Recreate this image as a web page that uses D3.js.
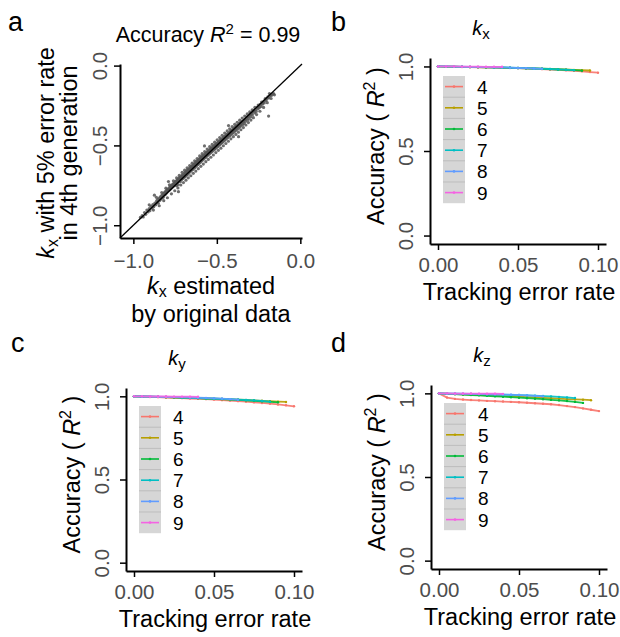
<!DOCTYPE html>
<meta charset="utf-8">
<title>Tracking error accuracy</title>
<script src="https://cdn.jsdelivr.net/npm/d3@7"></script>
<style>
  body { margin: 0; background: #fff; }
  svg text { font-family: "Liberation Sans", Arial, sans-serif; }
</style>
<body>
<script>

// panel a: k_x estimated by original data vs k_x with 5% error rate (4th generation)
var kxPairs = [
  [-0.958,-0.951],[-0.947,-0.940],[-0.941,-0.948],[-0.933,-0.921],[-0.926,-0.932],[-0.919,-0.905],[-0.912,-0.917],[-0.905,-0.896],
  [-0.901,-0.909],[-0.894,-0.881],[-0.889,-0.893],[-0.883,-0.870],[-0.878,-0.884],[-0.874,-0.812],[-0.871,-0.861],[-0.866,-0.872],
  [-0.861,-0.848],[-0.857,-0.856],[-0.853,-0.838],[-0.851,-0.862],[-0.846,-0.831],[-0.842,-0.845],[-0.839,-0.822],[-0.835,-0.836],
  [-0.831,-0.815],[-0.828,-0.829],[-0.824,-0.808],[-0.821,-0.824],[-0.818,-0.801],[-0.815,-0.811],[-0.812,-0.793],[-0.809,-0.808],
  [-0.806,-0.787],[-0.803,-0.799],[-0.800,-0.779],[-0.797,-0.792],[-0.794,-0.774],[-0.790,-0.726],[-0.791,-0.785],[-0.788,-0.770],
  [-0.785,-0.781],[-0.782,-0.761],[-0.779,-0.774],[-0.776,-0.757],[-0.773,-0.768],[-0.770,-0.748],[-0.767,-0.762],[-0.764,-0.744],
  [-0.761,-0.757],[-0.758,-0.737],[-0.755,-0.751],[-0.752,-0.731],[-0.749,-0.744],[-0.747,-0.725],[-0.744,-0.738],[-0.742,-0.752],
  [-0.739,-0.719],[-0.737,-0.731],[-0.734,-0.713],[-0.732,-0.745],[-0.730,-0.790],[-0.729,-0.722],[-0.727,-0.706],[-0.724,-0.718],
  [-0.722,-0.700],[-0.719,-0.727],[-0.717,-0.709],[-0.714,-0.693],[-0.712,-0.715],[-0.709,-0.700],[-0.707,-0.686],[-0.704,-0.708],
  [-0.702,-0.692],[-0.699,-0.679],[-0.697,-0.701],[-0.694,-0.684],[-0.692,-0.670],[-0.689,-0.694],[-0.687,-0.676],[-0.684,-0.663],
  [-0.682,-0.687],[-0.679,-0.668],[-0.677,-0.655],[-0.674,-0.680],[-0.672,-0.660],[-0.669,-0.648],[-0.667,-0.672],[-0.664,-0.652],
  [-0.662,-0.641],[-0.659,-0.665],[-0.657,-0.645],[-0.654,-0.633],[-0.652,-0.657],[-0.649,-0.637],[-0.647,-0.626],[-0.644,-0.651],
  [-0.642,-0.629],[-0.639,-0.618],[-0.637,-0.643],[-0.634,-0.622],[-0.632,-0.611],[-0.629,-0.636],[-0.627,-0.614],[-0.624,-0.603],
  [-0.622,-0.628],[-0.619,-0.607],[-0.617,-0.596],[-0.614,-0.621],[-0.612,-0.599],[-0.609,-0.589],[-0.607,-0.613],[-0.604,-0.592],
  [-0.602,-0.581],[-0.599,-0.606],[-0.597,-0.585],[-0.594,-0.574],[-0.592,-0.598],[-0.589,-0.577],[-0.587,-0.567],[-0.584,-0.591],
  [-0.582,-0.570],[-0.579,-0.559],[-0.577,-0.583],[-0.574,-0.503],[-0.572,-0.562],[-0.569,-0.552],[-0.567,-0.575],[-0.564,-0.555],
  [-0.562,-0.544],[-0.559,-0.567],[-0.557,-0.547],[-0.554,-0.537],[-0.552,-0.560],[-0.549,-0.541],[-0.547,-0.530],[-0.544,-0.553],
  [-0.542,-0.534],[-0.539,-0.523],[-0.537,-0.546],[-0.534,-0.527],[-0.532,-0.516],[-0.529,-0.539],[-0.527,-0.520],[-0.524,-0.509],
  [-0.522,-0.532],[-0.519,-0.513],[-0.517,-0.502],[-0.514,-0.525],[-0.512,-0.506],[-0.509,-0.495],[-0.507,-0.518],[-0.504,-0.499],
  [-0.502,-0.488],[-0.499,-0.511],[-0.497,-0.492],[-0.494,-0.481],[-0.492,-0.504],[-0.489,-0.486],[-0.487,-0.474],[-0.484,-0.497],
  [-0.482,-0.479],[-0.479,-0.467],[-0.477,-0.490],[-0.474,-0.472],[-0.472,-0.460],[-0.469,-0.483],[-0.467,-0.465],[-0.464,-0.453],
  [-0.462,-0.476],[-0.459,-0.458],[-0.457,-0.446],[-0.454,-0.469],[-0.452,-0.451],[-0.449,-0.440],[-0.447,-0.462],[-0.444,-0.444],
  [-0.442,-0.433],[-0.439,-0.455],[-0.437,-0.437],[-0.434,-0.426],[-0.432,-0.448],[-0.430,-0.376],[-0.429,-0.431],[-0.427,-0.419],
  [-0.424,-0.441],[-0.422,-0.424],[-0.419,-0.412],[-0.417,-0.434],[-0.414,-0.417],[-0.412,-0.405],[-0.409,-0.427],[-0.407,-0.410],
  [-0.404,-0.398],[-0.402,-0.420],[-0.399,-0.404],[-0.397,-0.391],[-0.394,-0.413],[-0.392,-0.397],[-0.389,-0.384],[-0.387,-0.406],
  [-0.384,-0.390],[-0.382,-0.377],[-0.379,-0.399],[-0.377,-0.383],[-0.374,-0.371],[-0.370,-0.445],[-0.372,-0.392],[-0.369,-0.376],
  [-0.366,-0.364],[-0.364,-0.385],[-0.361,-0.369],[-0.358,-0.357],[-0.356,-0.378],[-0.353,-0.362],[-0.349,-0.350],[-0.346,-0.371],
  [-0.343,-0.355],[-0.339,-0.343],[-0.336,-0.362],[-0.332,-0.338],[-0.328,-0.349],[-0.324,-0.331],[-0.320,-0.322],[-0.316,-0.341],
  [-0.312,-0.318],[-0.308,-0.330],[-0.304,-0.310],[-0.300,-0.301],[-0.296,-0.320],[-0.291,-0.298],[-0.287,-0.308],[-0.282,-0.287],
  [-0.278,-0.281],[-0.273,-0.296],[-0.268,-0.275],[-0.264,-0.287],[-0.259,-0.262],[-0.254,-0.271],[-0.249,-0.255],[-0.245,-0.263],
  [-0.240,-0.243],[-0.235,-0.256],[-0.230,-0.236],[-0.226,-0.241],[-0.221,-0.226],[-0.216,-0.234],[-0.211,-0.215],[-0.205,-0.218],
  [-0.200,-0.206],[-0.195,-0.196],[-0.190,-0.316],[-0.188,-0.203],[-0.183,-0.190],[-0.178,-0.183],[-0.172,-0.186],[-0.166,-0.178],
  [-0.160,-0.176],[-0.155,-0.183],
  // wider fringe of the band
  [-0.905,-0.872],[-0.880,-0.905],[-0.862,-0.825],[-0.845,-0.878],[-0.830,-0.795],[-0.818,-0.846],[-0.805,-0.768],[-0.796,-0.828],
  [-0.784,-0.747],[-0.772,-0.803],[-0.760,-0.722],[-0.752,-0.784],[-0.741,-0.703],[-0.733,-0.766],[-0.725,-0.688],[-0.716,-0.748],
  [-0.708,-0.669],[-0.700,-0.733],[-0.693,-0.655],[-0.685,-0.718],[-0.678,-0.640],[-0.671,-0.703],[-0.663,-0.626],[-0.656,-0.690],
  [-0.648,-0.611],[-0.641,-0.675],[-0.633,-0.596],[-0.626,-0.661],[-0.618,-0.582],[-0.611,-0.646],[-0.603,-0.566],[-0.596,-0.631],
  [-0.588,-0.552],[-0.581,-0.617],[-0.573,-0.538],[-0.566,-0.602],[-0.558,-0.523],[-0.551,-0.588],[-0.543,-0.508],[-0.536,-0.574],
  [-0.528,-0.494],[-0.521,-0.560],[-0.513,-0.480],[-0.506,-0.545],[-0.498,-0.465],[-0.491,-0.531],[-0.483,-0.451],[-0.476,-0.517],
  [-0.468,-0.437],[-0.461,-0.502],[-0.453,-0.423],[-0.446,-0.488],[-0.438,-0.409],[-0.431,-0.474],[-0.423,-0.396],[-0.416,-0.459],
  [-0.408,-0.382],[-0.401,-0.445],[-0.393,-0.368],[-0.386,-0.431],[-0.378,-0.355],[-0.371,-0.417],[-0.363,-0.342],[-0.356,-0.402],
  [-0.348,-0.329],[-0.341,-0.388],[-0.333,-0.316],[-0.326,-0.372],[-0.318,-0.303],[-0.311,-0.357],[-0.303,-0.290],[-0.296,-0.341],
  [-0.288,-0.277],[-0.281,-0.326],[-0.272,-0.262],[-0.262,-0.307],[-0.252,-0.247],[-0.242,-0.286],[-0.232,-0.228],[-0.220,-0.262],
  [-0.210,-0.207],[-0.198,-0.232],[-0.185,-0.175],[-0.175,-0.206],
  [-0.745,-0.730],[-0.735,-0.728],[-0.725,-0.718],[-0.715,-0.704],[-0.705,-0.695],[-0.695,-0.690],[-0.685,-0.672],[-0.675,-0.668],
  [-0.665,-0.655],[-0.655,-0.648],[-0.645,-0.634],[-0.635,-0.630],[-0.625,-0.615],[-0.615,-0.611],[-0.605,-0.596],[-0.595,-0.592],
  [-0.585,-0.576],[-0.575,-0.571],[-0.565,-0.558],[-0.555,-0.554],[-0.545,-0.542],[-0.535,-0.537],[-0.525,-0.519],[-0.515,-0.518],
  [-0.505,-0.500],[-0.495,-0.502],[-0.485,-0.481],[-0.475,-0.484]
];
var kxTicks = [-1.0, -0.5, 0.0];

// panels b-d: accuracy vs tracking error rate, one series per generation
var errorRate = [0, 0.005, 0.01, 0.015, 0.02, 0.025, 0.03, 0.035, 0.04, 0.045, 0.05,
                 0.055, 0.06, 0.065, 0.07, 0.075, 0.08, 0.085, 0.09, 0.095, 0.1];
var generations = ["4", "5", "6", "7", "8", "9"];
var genColors = ["#F8766D", "#B79F00", "#00BA38", "#00BFC4", "#619CFF", "#F564E3"];
var rateTicks = [0, 0.05, 0.1];
var accTicks = [0, 0.5, 1];

var accKx = [
  [1.000,0.999,0.998,0.997,0.996,0.995,0.994,0.993,0.992,0.991,0.990,0.988,0.986,0.984,0.982,0.980,0.977,0.974,0.971,0.967,0.963],
  [1.000,0.999,0.999,0.998,0.997,0.996,0.995,0.994,0.993,0.992,0.991,0.990,0.988,0.987,0.985,0.984,0.982,0.980,0.978,0.976],
  [1.000,0.999,0.999,0.998,0.997,0.996,0.995,0.994,0.993,0.992,0.991,0.989,0.988,0.986,0.984,0.982,0.980,0.978,0.975],
  [1.000,1.000,0.999,0.998,0.997,0.997,0.996,0.995,0.994,0.993,0.991,0.990,0.988,0.987,0.985,0.983,0.981,0.978],
  [1.000,1.000,0.999,0.999,0.998,0.997,0.996,0.995,0.994,0.993,0.991,0.990,0.988,0.986],
  [1.000,1.000,1.000,0.999,0.999,0.999,0.998,0.998,0.998]
];
var accKy = [
  [1.000,0.998,0.996,0.995,0.993,0.991,0.989,0.987,0.985,0.983,0.980,0.977,0.974,0.971,0.968,0.964,0.960,0.956,0.951,0.946,0.940],
  [1.000,0.999,0.998,0.997,0.996,0.994,0.993,0.991,0.990,0.988,0.986,0.984,0.982,0.980,0.978,0.976,0.973,0.971,0.968,0.966],
  [1.000,0.999,0.998,0.997,0.995,0.994,0.992,0.991,0.989,0.987,0.985,0.983,0.981,0.979,0.976,0.973,0.970,0.967,0.964],
  [1.000,0.999,0.998,0.997,0.996,0.995,0.993,0.992,0.990,0.988,0.987,0.985,0.983,0.980,0.978,0.976,0.972,0.968],
  [1.000,0.999,0.999,0.998,0.997,0.996,0.995,0.993,0.992,0.990,0.988,0.986,0.983,0.980],
  [1.000,1.000,0.999,0.999,0.999,0.998,0.998,0.998,0.997]
];
var accKz = [
  [1.000,0.975,0.967,0.963,0.960,0.958,0.955,0.953,0.951,0.949,0.947,0.944,0.941,0.938,0.935,0.930,0.924,0.918,0.910,0.902,0.894],
  [1.000,0.998,0.996,0.994,0.992,0.990,0.988,0.986,0.984,0.982,0.980,0.978,0.976,0.973,0.971,0.969,0.966,0.964,0.962,0.959],
  [1.000,0.997,0.995,0.993,0.990,0.988,0.985,0.982,0.980,0.977,0.974,0.971,0.968,0.965,0.961,0.958,0.954,0.949,0.943],
  [1.000,0.999,0.998,0.997,0.996,0.995,0.994,0.993,0.992,0.991,0.990,0.988,0.986,0.984,0.982,0.979,0.976,0.972],
  [1.000,0.999,0.999,0.998,0.997,0.996,0.995,0.994,0.993,0.992,0.990,0.988,0.985,0.982],
  [1.000,1.000,0.999,0.999,0.999,0.998,0.998,0.998,0.997]
];

var tickGrey = "#4d4d4d";
var titleSize = "23.5px";

var svg = d3.select("body").append("svg")
  .attr("width", 620)
  .attr("height", 637);

function styleAxis(g) {
  g.select(".domain").attr("stroke", "#000").attr("stroke-width", 2);
  g.selectAll(".tick line").attr("stroke", "#000").attr("stroke-width", 1.5);
  g.selectAll(".tick text")
    .attr("fill", tickGrey)
    .style("font-size", "20.5px")
    .style("font-family", "'Liberation Sans', Arial, sans-serif");
}

// rotate y tick labels so they read bottom to top, like the source
function rotateYLabels(g, off) {
  g.selectAll(".tick text")
    .attr("transform", "rotate(-90)")
    .attr("x", 0)
    .attr("y", -off)
    .attr("dy", 0)
    .attr("text-anchor", "middle");
}

function panelLetter(t, x, y) {
  svg.append("text").attr("x", x).attr("y", y)
    .style("font-size", "27px").text(t);
}

// ---------- panel a ----------
(function () {
  var x0 = 120, x1 = 302, yb = 238, yt = 64;
  var x = d3.scaleLinear().domain([-1.08, 0.01]).range([x0, x1]);
  var y = d3.scaleLinear().domain([-1.08, 0.01]).range([yb, yt]);

  var g = svg.append("g");

  g.selectAll(".pt")
    .data(kxPairs)
    .enter().append("circle")
    .attr("class", "pt")
    .attr("cx", function (d) { return x(d[0]); })
    .attr("cy", function (d) { return y(d[1]); })
    .attr("r", 1.6)
    .attr("fill", "#555")
    .attr("fill-opacity", 0.85);

  g.append("line")
    .attr("x1", x(-1.08)).attr("y1", y(-1.08))
    .attr("x2", x(0.01)).attr("y2", y(0.01))
    .attr("stroke", "#000").attr("stroke-width", 1.3);

  var fmt = d3.format(".1f");
  var xa = g.append("g").attr("transform", "translate(0," + yb + ")")
    .call(d3.axisBottom(x).tickValues(kxTicks).tickFormat(fmt).tickSizeInner(6).tickSizeOuter(0));
  styleAxis(xa);
  xa.selectAll(".tick text").attr("dy", 0).attr("y", 30);

  var ya = g.append("g").attr("transform", "translate(" + x0 + ",0)")
    .call(d3.axisLeft(y).tickValues(kxTicks).tickFormat(fmt).tickSizeInner(6).tickSizeOuter(0));
  styleAxis(ya);
  rotateYLabels(ya, 13);

  // title
  var t = g.append("text").attr("x", 208).attr("y", 42).attr("text-anchor", "middle")
    .style("font-size", "21.5px");
  t.append("tspan").text("Accuracy ");
  t.append("tspan").style("font-style", "italic").text("R");
  t.append("tspan").attr("dy", -8).style("font-size", "15px").text("2");
  t.append("tspan").attr("dy", 8).text(" = 0.99");

  // x title
  var xt = g.append("text").attr("x", 211).attr("y", 294).attr("text-anchor", "middle")
    .style("font-size", titleSize);
  xt.append("tspan").style("font-style", "italic").text("k");
  xt.append("tspan").attr("dy", 3).style("font-size", "16px").text("x");
  xt.append("tspan").attr("dy", -3).text(" estimated");
  g.append("text").attr("x", 211).attr("y", 322).attr("text-anchor", "middle")
    .style("font-size", titleSize).text("by original data");

  // y title, two lines
  var yg = g.append("g").attr("transform", "translate(54,153) rotate(-90)");
  var yt1 = yg.append("text").attr("text-anchor", "middle").style("font-size", titleSize);
  yt1.append("tspan").style("font-style", "italic").text("k");
  yt1.append("tspan").attr("dy", 4).style("font-size", "16px").text("x");
  yt1.append("tspan").attr("dy", -4).text(" with 5% error rate");
  yg.append("text").attr("y", 23).attr("text-anchor", "middle")
    .style("font-size", titleSize).text("in 4th generation");

  panelLetter("a", 8, 31);
})();

// ---------- panels b, c, d ----------
function linePanel(p) {
  var w = 176;
  var x = d3.scaleLinear().domain([-0.005, 0.105]).range([p.x0, p.x0 + w]);
  var y = d3.scaleLinear().domain([-0.05, 1.05]).range([p.y0 + p.h, p.y0]);
  var g = svg.append("g");

  var line = d3.line()
    .x(function (d, i) { return x(errorRate[i]); })
    .y(function (d) { return y(d); });

  p.values.forEach(function (vals, gi) {
    g.append("path")
      .attr("d", line(vals))
      .attr("fill", "none")
      .attr("stroke", genColors[gi])
      .attr("stroke-width", 1.8)
      .attr("stroke-opacity", 0.9);
    g.selectAll(".m" + gi)
      .data(vals)
      .enter().append("circle")
      .attr("cx", function (d, i) { return x(errorRate[i]); })
      .attr("cy", function (d) { return y(d); })
      .attr("r", 1.2)
      .attr("fill", genColors[gi]);
  });

  var bottom = p.y0 + p.h;
  var xa = g.append("g").attr("transform", "translate(0," + bottom + ")")
    .call(d3.axisBottom(x).tickValues(rateTicks).tickFormat(d3.format(".2f")).tickSizeInner(6).tickSizeOuter(0));
  styleAxis(xa);
  xa.selectAll(".tick text").attr("dy", 0).attr("y", 28);

  var ya = g.append("g").attr("transform", "translate(" + p.x0 + ",0)")
    .call(d3.axisLeft(y).tickValues(accTicks).tickFormat(d3.format(".1f")).tickSizeInner(6).tickSizeOuter(0));
  styleAxis(ya);
  rotateYLabels(ya, 17);

  // x title
  g.append("text").attr("x", p.x0 + 89).attr("y", bottom + 56).attr("text-anchor", "middle")
    .style("font-size", titleSize).text("Tracking error rate");

  // y title
  var yt = g.append("text")
    .attr("transform", "translate(" + (p.x0 - 46) + "," + (p.y0 + p.h / 2 - 5) + ") rotate(-90)")
    .attr("text-anchor", "middle").style("font-size", titleSize);
  yt.append("tspan").text("Accuracy ( ");
  yt.append("tspan").style("font-style", "italic").text("R");
  yt.append("tspan").attr("dy", -9).style("font-size", "16px").text("2");
  yt.append("tspan").attr("dy", 9).text(" )");

  // panel title k_sub
  var tt = g.append("text").attr("x", p.x0 + 51).attr("y", p.y0 - 23).attr("text-anchor", "middle")
    .style("font-size", "20px");
  tt.append("tspan").style("font-style", "italic").text("k");
  tt.append("tspan").attr("dy", 4).style("font-size", "15px").text(p.sub);

  // legend
  var rowH = 21.2, lx = p.x0 + 13, ly = p.y0 + 18;
  var lg = g.append("g");
  lg.append("rect").attr("x", lx).attr("y", ly).attr("width", 22).attr("height", rowH * generations.length)
    .attr("fill", "#d6d6d6");
  generations.forEach(function (gen, i) {
    var cy = ly + rowH * i + rowH / 2;
    if (i > 0) {
      lg.append("line").attr("x1", lx).attr("x2", lx + 22)
        .attr("y1", ly + rowH * i).attr("y2", ly + rowH * i)
        .attr("stroke", "#bdbdbd").attr("stroke-width", 1);
    }
    lg.append("line").attr("x1", lx + 2).attr("x2", lx + 20).attr("y1", cy).attr("y2", cy)
      .attr("stroke", genColors[i]).attr("stroke-width", 1.6);
    lg.append("circle").attr("cx", lx + 11).attr("cy", cy).attr("r", 1.3).attr("fill", genColors[i]);
    lg.append("text").attr("x", lx + 34).attr("y", cy + 7)
      .style("font-size", "19px").text(gen);
  });

  panelLetter(p.letter, p.lx, p.ly);
}

linePanel({ x0: 430, y0: 58, h: 186, sub: "x", values: accKx, letter: "b", lx: 331, ly: 31 });
linePanel({ x0: 126, y0: 388, h: 183, sub: "y", values: accKy, letter: "c", lx: 11, ly: 352 });
linePanel({ x0: 431, y0: 385, h: 184, sub: "z", values: accKz, letter: "d", lx: 331, ly: 352 });

</script>
</body>
